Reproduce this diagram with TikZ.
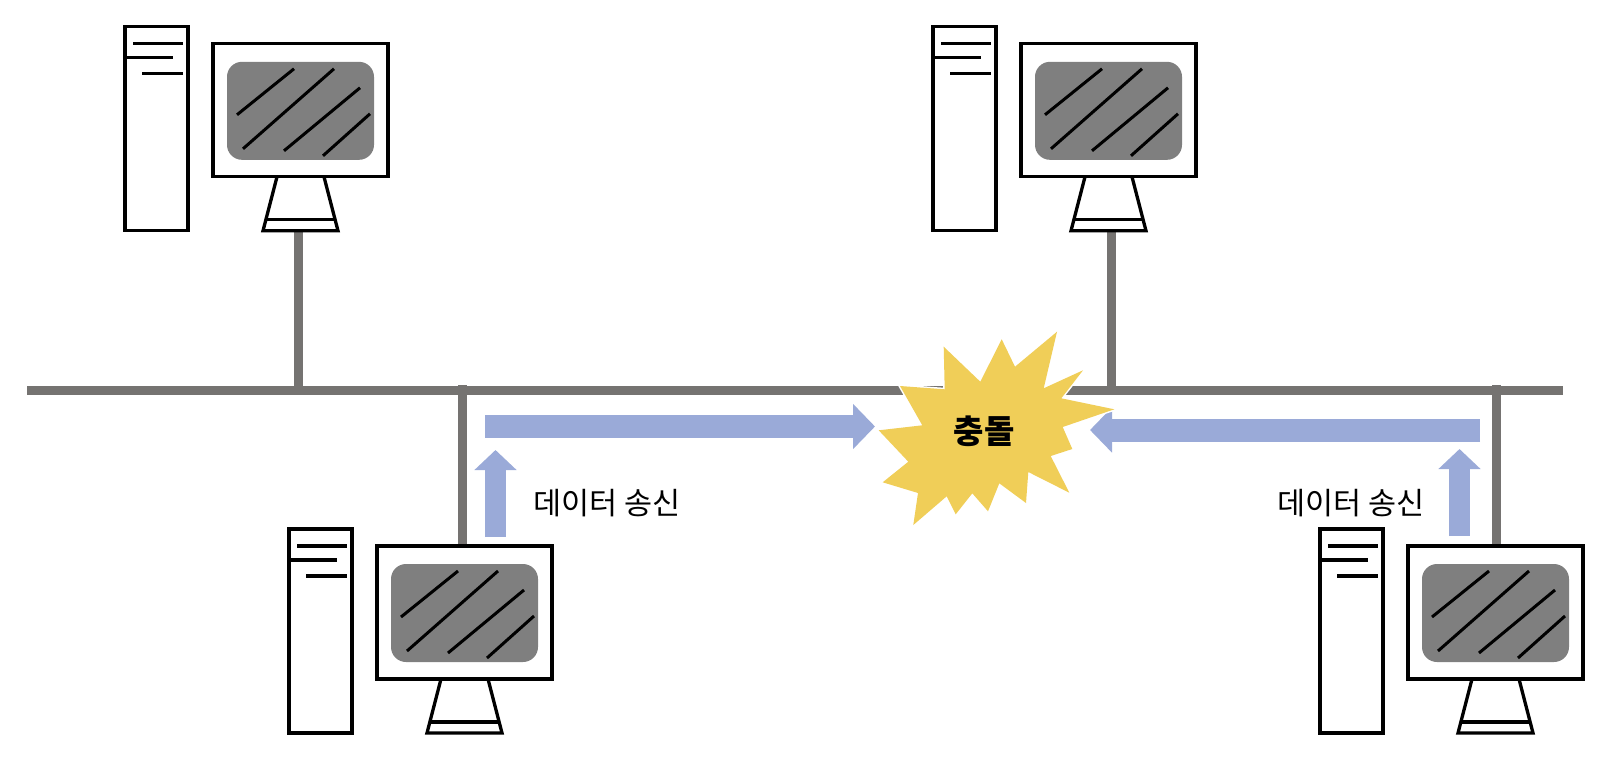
\documentclass[tikz,border=0pt]{standalone}
\usepackage{fontspec}
\setmainfont{Noto Sans CJK KR}
\usetikzlibrary{arrows.meta}
\definecolor{busgray}{HTML}{757371}
\definecolor{screengray}{HTML}{7F7F7F}
\definecolor{flowblue}{HTML}{9AAAD8}
\definecolor{staryellow}{HTML}{F0CE58}
\tikzset{
  x=1pt,y=-1pt,
  pcline/.style={draw=black,line width=3.3pt,line join=miter},
  screenbox/.style={fill=screengray,rounded corners=15pt},
  glare/.style={draw=black,line width=3pt},
  buswire/.style={draw=busgray,line width=9pt},
  flowarrow/.style={draw=flowblue,line width=23pt,-{Triangle[length=22pt,width=44pt,color=flowblue]}},
  uparrow/.style={draw=flowblue,line width=21pt,-{Triangle[length=20pt,width=41pt,color=flowblue]}},
  label/.style={inner sep=0pt,font=\fontsize{30.5}{32}\selectfont},
  pics/computer/.style={code={
    \draw[pcline] (0,0) rectangle (63,204);
    \draw[pcline] (8,17) -- (58,17);
    \draw[pcline] (0,31) -- (48,31);
    \draw[pcline] (17,47) -- (58,47);
    \draw[pcline] (88,17) rectangle (263,150);
    \path[screenbox] (102,35) rectangle (249,133);
    \draw[glare] (112,88) -- (169,42);
    \draw[glare] (118,122) -- (209,42);
    \draw[glare] (159,124) -- (235,61);
    \draw[glare] (198,129) -- (245,87);
    \draw[pcline] (152,150) -- (138,204) -- (213,204) -- (199,150);
    \draw[pcline] (142,193) -- (209,193);
  }}
}
\begin{document}
\begin{tikzpicture}
\useasboundingbox (0,0) rectangle (1612,772);
\coordinate (busL) at (27,390);
\coordinate (busR) at (1563,390);
\coordinate (tapA) at (298,390);
\coordinate (tapB) at (1111,390);
\coordinate (tapC) at (462,385);
\coordinate (tapD) at (1496,385);
\coordinate (dropA) at (298,231);
\coordinate (dropB) at (1111,231);
\coordinate (dropC) at (462,545);
\coordinate (dropD) at (1496,545);
% bus and drops
\draw[buswire] (busL) -- (busR);
\draw[buswire] (tapA) -- (dropA);
\draw[buswire] (tapB) -- (dropB);
\draw[buswire] (tapC) -- (dropC);
\draw[buswire] (tapD) -- (dropD);
% computers
\pic (pcA) at (125,26.8) {computer};
\pic (pcB) at (933,26.8) {computer};
\pic (pcC) at (289,529) {computer};
\pic (pcD) at (1320,529) {computer};
% arrows
\coordinate (flowAs) at (485,426.5);
\coordinate (flowAe) at (875,426.5);
\coordinate (flowBs) at (1480,430);
\coordinate (flowBe) at (1090,430);
\coordinate (upAs) at (495.5,537);
\coordinate (upAe) at (495.5,450);
\coordinate (upBs) at (1459.5,536);
\coordinate (upBe) at (1459.5,449);
\draw[flowarrow] (flowAs) -- (flowAe);
\draw[flowarrow] (flowBs) -- (flowBe);
\draw[uparrow] (upAs) -- (upAe);
\draw[uparrow] (upBs) -- (upBe);
% burst
\fill[staryellow,preaction={draw=white,line width=3pt,line join=miter}]
  (900,386) -- (944.7,389.3) -- (943.7,346.7) -- (980.3,381.7) -- (1001.7,339.3)
  -- (1015,366.7) -- (1057,331.7) -- (1043.7,388.3) -- (1083,370.3) -- (1061.3,398.3)
  -- (1114.3,409.3) -- (1062.7,427) -- (1072.3,449) -- (1050.7,456) -- (1069.3,492.7)
  -- (1028.3,472) -- (1026,503) -- (999.3,483.3) -- (988,511.3) -- (972.3,493.3)
  -- (955.7,514.3) -- (946.7,496.3) -- (913.3,525) -- (918,493) -- (882.7,482.3)
  -- (908.3,461.7) -- (878.7,430.3) -- (922.3,425.3) -- cycle;
% labels
\node[label] (lblA) at (607,503) {데이터 송신};
\node[label] (lblB) at (1351,503) {데이터 송신};
\node[inner sep=0pt,font=\fontsize{33}{35}\selectfont\bfseries] (burst) at (984,431) {충돌};
\end{tikzpicture}
\end{document}
